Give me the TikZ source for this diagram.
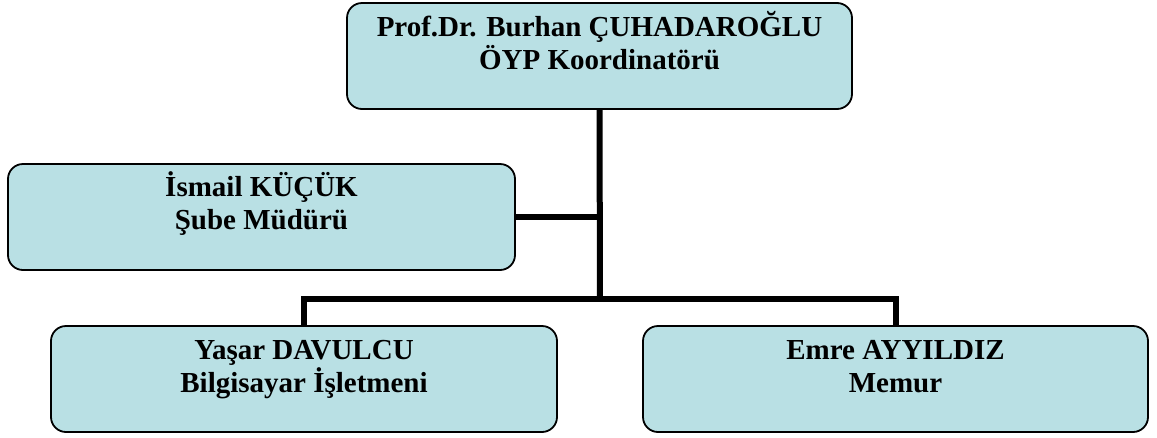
\documentclass[tikz,border=0pt]{standalone}
\usepackage{fontspec}
\setmainfont{Liberation Serif}
\usepackage{xcolor}
\definecolor{boxcyan}{RGB}{185,224,228}

\begin{document}
\begin{tikzpicture}[x=1pt,y=-1pt,
    orgbox/.style={draw,rounded corners=15pt,fill=boxcyan,line width=1.8pt,minimum width=505pt,minimum height=106pt,inner sep=0pt},
    orgtext/.style={anchor=base,align=center,font=\bfseries\fontsize{29}{33}\selectfont,inner sep=0pt},
    link/.style={line width=6pt,line join=miter}]
                        \useasboundingbox (0,0) rectangle (1157,437);
                        \node (prof) at (599.5,56) [orgbox] {};
                        \node (prof text) at ([yshift=-67pt]prof.north) [orgtext] {Prof.Dr. Burhan ÇUHADAROĞLU\\ÖYP Koordinatörü};
                        \node (ismail) at (261.5,217) [orgbox,minimum width=507pt] {};
                        \node (ismail text) at ([yshift=-66pt]ismail.north) [orgtext] {İsmail KÜÇÜK\\Şube Müdürü};
                        \node (yasar) at (304,379) [orgbox,minimum width=506pt] {};
                        \node (yasar text) at ([yshift=-67pt]yasar.north) [orgtext] {Yaşar DAVULCU\\Bilgisayar İşletmeni};
                        \node (emre) at (895.5,379) [orgbox] {};
                        \node (emre text) at ([yshift=-67pt]emre.north) [orgtext] {Emre AYYILDIZ\\Memur};
                        \coordinate (bus) at (600,299);

                    \draw [link] (prof.south) -- (bus) ;
                        \draw [link] (ismail.east) -- (ismail.east -| prof.south);
                        \draw [link] (yasar.north) |- (bus) -| (emre.north);


                    \end{tikzpicture}
\end{document}
